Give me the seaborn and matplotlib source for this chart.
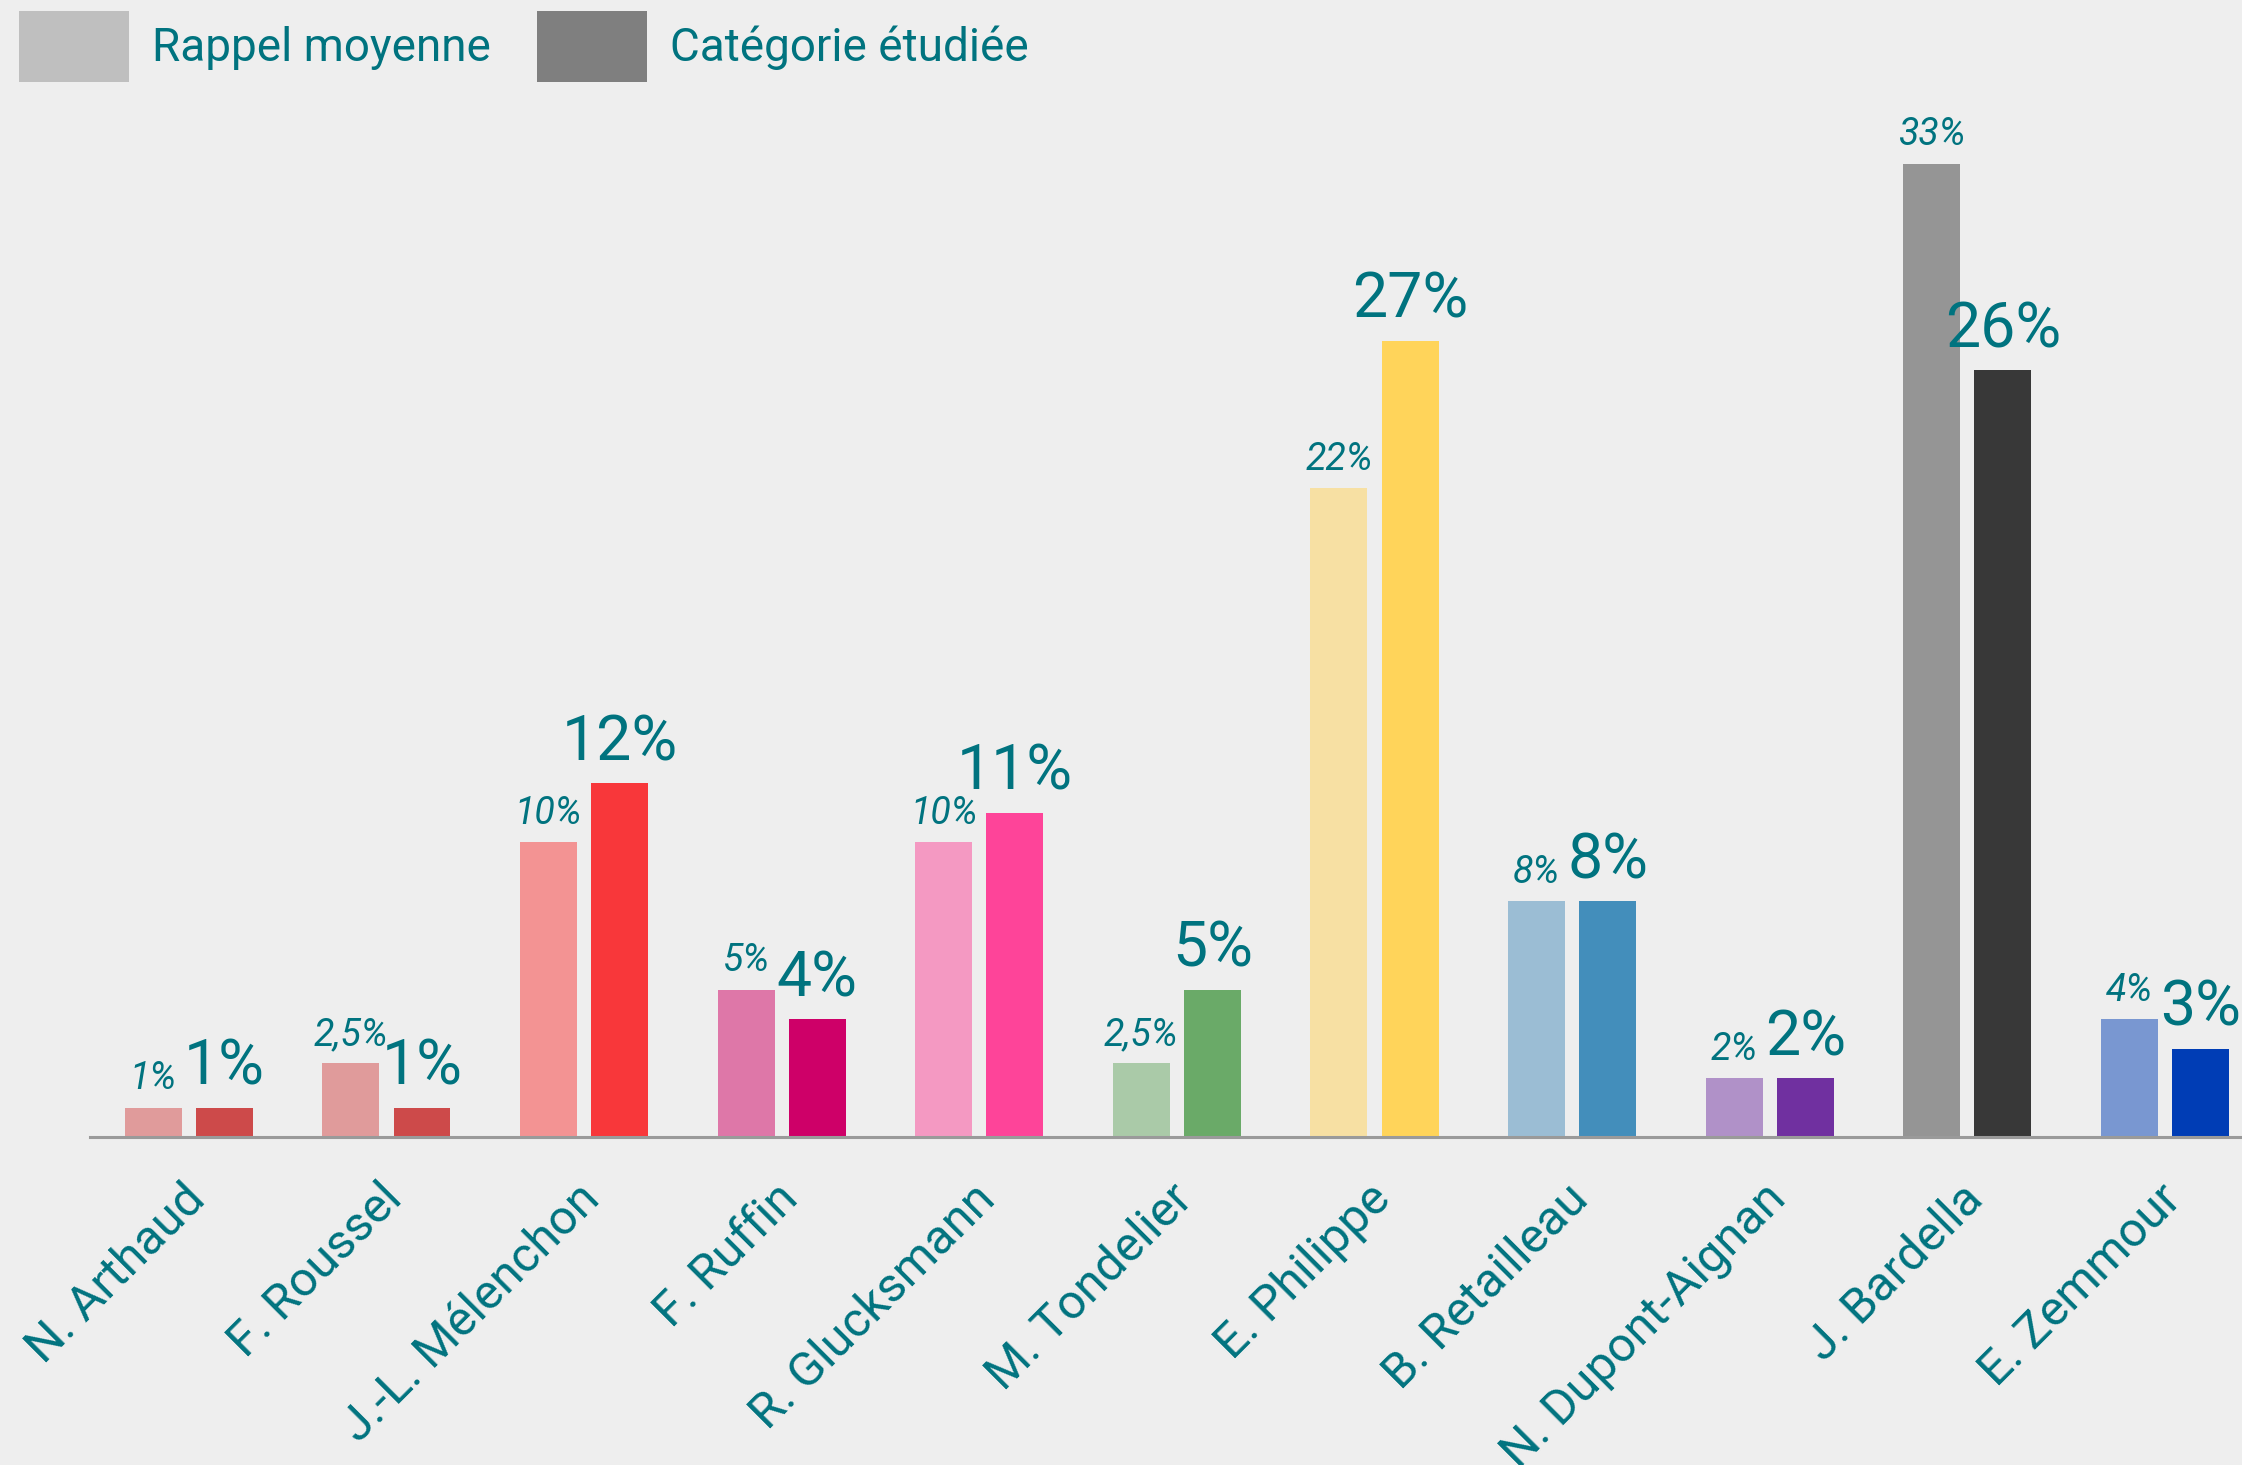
import matplotlib
matplotlib.use("Agg")
import matplotlib.pyplot as plt
import matplotlib.transforms as mtransforms
from matplotlib.patches import Patch
import seaborn as sns
import pandas as pd

candidates = ["N. Arthaud", "F. Roussel", "J.-L. Mélenchon", "F. Ruffin",
              "R. Glucksmann", "M. Tondelier", "E. Philippe", "B. Retailleau",
              "N. Dupont-Aignan", "J. Bardella", "E. Zemmour"]
rappel_moyenne = [1, 2.5, 10, 5, 10, 2.5, 22, 8, 2, 33, 4]
categorie_etudiee = [1, 1, 12, 4, 11, 5, 27, 8, 2, 26, 3]

light_colors = ["#E09B9B", "#E09B9B", "#F39393", "#DE77A8", "#F499C2", "#AACAA8",
                "#F7E0A3", "#9BBDD4", "#B091C8", "#959595", "#7997D1"]
dark_colors = ["#CD4A4A", "#CD4A4A", "#F8373A", "#CE0068", "#FE4499", "#6AAA68",
               "#FFD45A", "#438EBB", "#7030A0", "#383838", "#003DB5"]

series_names = ["Rappel moyenne", "Catégorie étudiée"]
TEAL = "#00737F"
BG = "#EEEEEE"

df = pd.DataFrame({
    "candidat": candidates * 2,
    "serie": [series_names[0]] * len(candidates) + [series_names[1]] * len(candidates),
    "valeur": rappel_moyenne + categorie_etudiee,
})

sns.set_theme(style="white")
plt.rcParams["font.family"] = ["Roboto", "DejaVu Sans"]

W, H = 2242, 1465
fig = plt.figure(figsize=(W / 100, H / 100), dpi=100, facecolor=BG)
base_y = 1137
ax = fig.add_axes([90 / W, (H - base_y) / H, (W - 90) / W, base_y / H])
ax.set_facecolor(BG)

sns.barplot(data=df, x="candidat", y="valeur", hue="serie", order=candidates,
            hue_order=series_names, width=0.72, gap=0.2, ax=ax,
            palette=["#BFBFBF", "#7F7F7F"], legend=False, errorbar=None,
            saturation=1)

for bar, c in zip(ax.containers[0], light_colors):
    bar.set_facecolor(c)
    bar.set_edgecolor("none")
for bar, c in zip(ax.containers[1], dark_colors):
    bar.set_facecolor(c)
    bar.set_edgecolor("none")

def fmt(v):
    s = f"{v:g}%"
    return s.replace(".", ",")

for bar, v in zip(ax.containers[0], rappel_moyenne):
    ax.annotate(fmt(v), (bar.get_x() + bar.get_width() / 2, bar.get_height()),
                xytext=(0, 13), textcoords="offset points", ha="center",
                va="baseline", fontsize=27, color=TEAL, fontstyle="italic")
for bar, v in zip(ax.containers[1], categorie_etudiee):
    ax.annotate(fmt(v), (bar.get_x() + bar.get_width() / 2, bar.get_height()),
                xytext=(0, 16.5), textcoords="offset points", ha="center",
                va="baseline", fontsize=45, color=TEAL)

ax.set_xlim(-0.5, 10.39)
ax.set_ylim(0, base_y / 29.5)
ax.set_xlabel("")
ax.set_ylabel("")
ax.set_yticks([])
for s in ["top", "right", "left"]:
    ax.spines[s].set_visible(False)
ax.spines["bottom"].set_color("#9A9A9A")
ax.spines["bottom"].set_linewidth(2.2)
ax.tick_params(axis="x", length=0, pad=0)

ax.set_xticks(range(len(candidates)))
ax.set_xticklabels(candidates, rotation=45, ha="right", rotation_mode="anchor",
                   va="center", fontsize=35, color=TEAL)
offset = mtransforms.ScaledTranslation(0.09, -0.55, fig.dpi_scale_trans)
for lab in ax.get_xticklabels():
    lab.set_transform(lab.get_transform() + offset)

handles = [Patch(facecolor="#BFBFBF", edgecolor="none"),
           Patch(facecolor="#7F7F7F", edgecolor="none")]
fig.legend(handles, series_names, loc="upper left",
           bbox_to_anchor=(19 / W, 1 - 11 / H), frameon=False, ncol=2,
           fontsize=33, labelcolor=TEAL, handlelength=2.4, handleheight=2.0,
           handletextpad=0.5, columnspacing=1.0, borderpad=0, borderaxespad=0)

fig.savefig("out.png", dpi=100, facecolor=BG)
